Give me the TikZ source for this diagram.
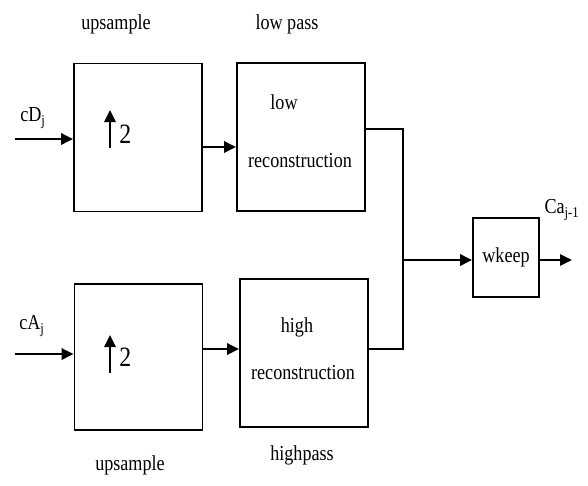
\documentclass[tikz,border=0pt]{standalone}
\usepackage{fontspec}
\setmainfont{Liberation Serif}[FakeStretch=0.85]
\usetikzlibrary{arrows.meta}
\begin{document}
\begin{tikzpicture}[x=0.75pt,y=-0.75pt,
  lab/.style={font=\fontsize{16}{18}\selectfont,inner sep=0pt},
  big/.style={font=\fontsize{21}{23}\selectfont,inner sep=0pt},
  blk/.style={draw,line width=1.4pt,inner sep=0pt},
  conn/.style={line width=1.6pt},
  arr/.style={conn,-{Triangle[length=9pt,width=8.5pt]}}]
\useasboundingbox (0,0) rectangle (588,485);
% boxes
\node[blk,minimum width=96pt,minimum height=111pt] (up1) at (138,137.5) {};
\node[blk,minimum width=96pt,minimum height=111pt] (low) at (301,137) {};
\node[blk,minimum width=96pt,minimum height=110pt] (up2) at (138.5,357) {};
\node[blk,minimum width=96pt,minimum height=111pt] (high) at (304,353) {};
\node[blk,minimum width=49.5pt,minimum height=59pt,lab] (wk) at (506,257.5) {wkeep};
% labels
\node[lab] (t1) at (116,24) {upsample};
\node[lab] (t2) at (287,24) {low pass};
\node[lab] (t3) at (130,465) {upsample};
\node[lab] (t4) at (302,455) {highpass};
\node[lab] (lw) at (284,102) {low};
\node[lab] (lr) at (300,161) {reconstruction};
\node[lab] (hh) at (297,327) {high};
\node[lab] (hr) at (303,373) {reconstruction};
\node[lab] (cd) at (33,118) {cD\textsubscript{j}};
\node[lab] (ca) at (32,326) {cA\textsubscript{j}};
\node[lab] (co) at (562,210) {Ca\textsubscript{j-1}};
% up-arrows with 2
\coordinate (a1s) at (110,148); \coordinate (a1e) at (110,110);
\draw[arr] (a1s) -- (a1e);
\node[big,anchor=west] (n1) at (119,134) {2};
\coordinate (a2s) at (110,373); \coordinate (a2e) at (110,335);
\draw[arr] (a2s) -- (a2e);
\node[big,anchor=west] (n2) at (119,357) {2};
% inputs
\coordinate (in1) at (15,139);
\coordinate (in2) at (15,354);
\draw[arr] (in1) -- (in1 -| up1.west);
\draw[arr] (in2) -- (in2 -| up2.west);
% between
\coordinate (m1) at (202,147);
\draw[arr] (m1) -- (m1 -| low.west);
\coordinate (m2) at (202,349);
\draw[arr] (m2) -- (m2 -| high.west);
% combine
\coordinate (j1) at (403,129);
\coordinate (j2) at (403,349);
\coordinate (jm) at (403,260);
\draw[conn] (low.east |- j1) -- (j1) -- (j2) -- (high.east |- j2);
\draw[arr] (jm) -- (jm -| wk.west);
\coordinate (o1) at (572,260);
\draw[arr] (jm -| wk.east) -- (o1);
\end{tikzpicture}
\end{document}
